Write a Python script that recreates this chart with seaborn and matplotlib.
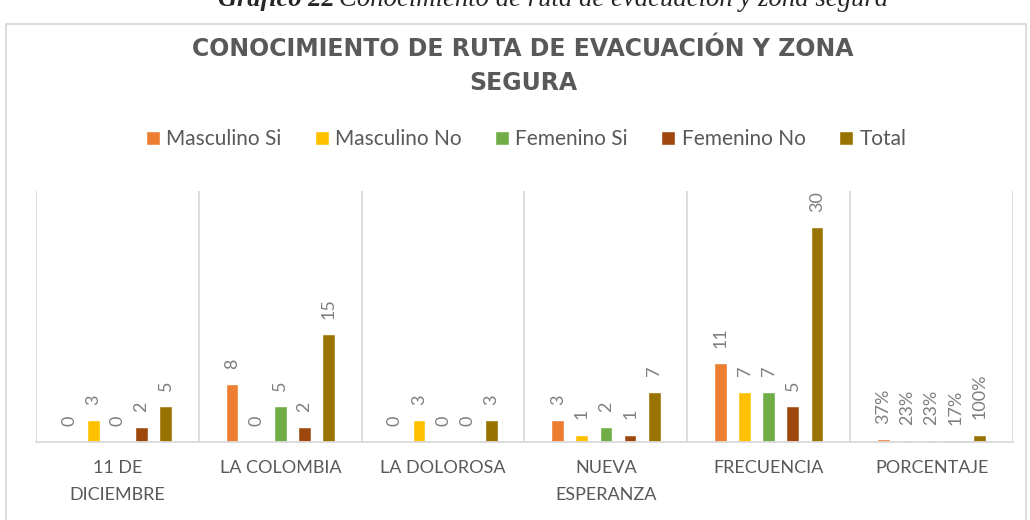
import pandas as pd
import seaborn as sns
import matplotlib.pyplot as plt
from matplotlib.patches import Rectangle

# data
categorias = ['11 DE\nDICIEMBRE', 'LA COLOMBIA', 'LA DOLOROSA',
              'NUEVA\nESPERANZA', 'FRECUENCIA', 'PORCENTAJE']
series = ['Masculino Si', 'Masculino No', 'Femenino Si', 'Femenino No', 'Total']
masculino_si = [0, 8, 0, 3, 11, 0.37]
masculino_no = [3, 0, 3, 1, 7, 0.23]
femenino_si = [0, 5, 0, 2, 7, 0.23]
femenino_no = [2, 2, 0, 1, 5, 0.17]
total = [5, 15, 3, 7, 30, 1.00]
colores = ['#ED7D31', '#FFC000', '#70AD47', '#9E480E', '#997300']

valores = [masculino_si, masculino_no, femenino_si, femenino_no, total]
rows = []
for serie, vals in zip(series, valores):
    for cat, v in zip(categorias, vals):
        rows.append({'categoria': cat, 'serie': serie, 'valor': v})
df = pd.DataFrame(rows)

sns.set_style('white')
plt.rcParams['font.family'] = ['Lato', 'DejaVu Sans']

fig = plt.figure(figsize=(10.3, 5.2), dpi=100)
ax = fig.add_axes([36 / 1030, 1 - 441.7 / 520, 977 / 1030, 250.7 / 520])

sns.barplot(data=df, x='categoria', y='valor', hue='serie', order=categorias,
            hue_order=series, palette=colores, width=0.74, gap=0.47,
            saturation=1, ax=ax)

# value labels, rotated like the original
for cont, vals in zip(ax.containers, valores):
    labels = [f'{v:.0%}' if i == 5 else f'{v:g}' for i, v in enumerate(vals)]
    ax.bar_label(cont, labels=labels, rotation=90, padding=11,
                 fontsize=13, color='#7f7f7f')

ax.set_ylim(0, 35)
ax.set_xlim(-0.5, 5.5)
ax.set_yticks([])
ax.set_xlabel('')
ax.set_ylabel('')
for s in ['top', 'left', 'right']:
    ax.spines[s].set_visible(False)
ax.spines['bottom'].set_color('#d9d9d9')
ax.spines['bottom'].set_linewidth(1.3)
ax.vlines([i - 0.5 for i in range(7)], 0, 35, color='#d9d9d9', lw=1.3)
ax.tick_params(axis='x', length=0, pad=13, labelsize=13, labelcolor='#595959')
for t in ax.get_xticklabels():
    t.set_linespacing(1.85)

handles, labels = ax.get_legend_handles_labels()
ax.get_legend().remove()
fig.legend(handles, labels, loc='center', bbox_to_anchor=(526 / 1030, 1 - 139 / 520),
           ncol=5, frameon=False, fontsize=15, handlelength=0.68, handleheight=0.68,
           handletextpad=0.3, columnspacing=1.6, labelcolor='#595959')

fig.text(0.508, 1 - 49 / 520, 'CONOCIMIENTO DE RUTA DE EVACUACIÓN Y ZONA',
         ha='center', va='center', fontsize=17, fontweight='bold',
         color='#595959', family=['DejaVu Sans'])
fig.text(0.508, 1 - 83 / 520, 'SEGURA', ha='center', va='center', fontsize=17,
         fontweight='bold', color='#595959', family=['DejaVu Sans'])

# caption above the chart box, cut by the top edge as in the original
t1 = fig.text(218 / 1030, 1 - 6 / 520, 'Gráfico 22', ha='left', va='baseline',
              fontsize=19, fontweight='bold', fontstyle='italic',
              family=['Liberation Serif'])
fig.canvas.draw()
bb = t1.get_window_extent()
fig.text(bb.x1 / fig.bbox.width + 0.004, 1 - 6 / 520,
         'Conocimiento de ruta de evacuación y zona segura', ha='left',
         va='baseline', fontsize=19.3, fontstyle='italic',
         family=['Liberation Serif'])

fig.patches.append(Rectangle((6 / 1030, -0.01), 1020 / 1030, 0.987 - 12 / 520,
                             transform=fig.transFigure, fill=False,
                             edgecolor='#d9d9d9', lw=1.3))

fig.savefig('out.png', dpi=100)
